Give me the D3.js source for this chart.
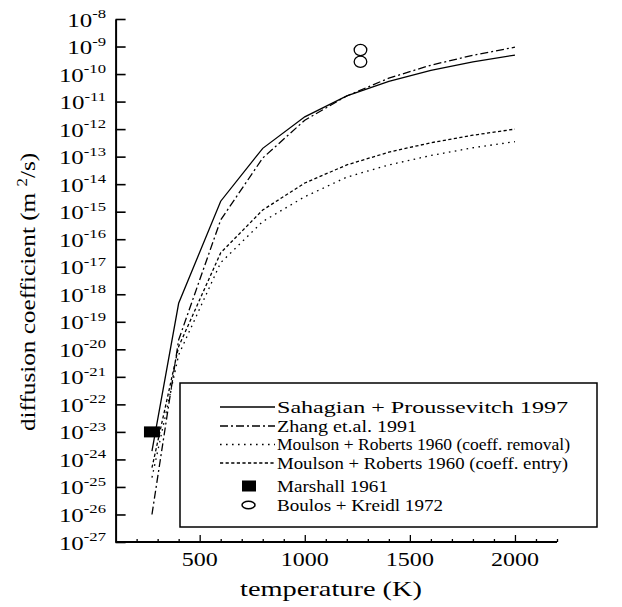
<!DOCTYPE html>
<html><head><meta charset="utf-8">
<script src="https://cdn.jsdelivr.net/npm/d3@7"></script>
<style>
html,body{margin:0;padding:0;background:#fff;}
svg{display:block;}
</style></head>
<body>
<svg id="c" width="622" height="607" font-family="Liberation Serif, Tinos, Times New Roman, DejaVu Serif, serif"></svg>
<script>
// ---- data ----
const temps = [273, 400, 600, 800, 1000, 1200, 1400, 1600, 1800, 2000];
const sahagian = [2.0e-24, 4.7e-19, 2.4e-15, 2.0e-13, 2.8e-12, 1.6e-11, 5.4e-11, 1.35e-10, 2.75e-10, 4.9e-10];
const zhang    = [1.0e-26, 2.2e-20, 5.0e-16, 8.9e-14, 2.1e-12, 1.6e-11, 7.1e-11, 2.1e-10, 4.8e-10, 9.5e-10];
const moulsonRemoval = [2.2e-25, 6.3e-21, 1.4e-17, 4.4e-16, 3.5e-15, 1.8e-14, 5.0e-14, 1.1e-13, 2.1e-13, 3.5e-13];
const moulsonEntry   = [5.0e-25, 1.26e-20, 3.2e-17, 1.15e-15, 1.1e-14, 5.0e-14, 1.45e-13, 3.2e-13, 6.0e-13, 1.0e-12];
const marshallT = [273];
const marshallD = [1.0e-23];
const boulosT = [1265, 1265];
const boulosD = [7.5e-10, 2.8e-10];
const yExponents = d3.range(-8, -28, -1);
const xTickLabels = [500, 1000, 1500, 2000];
const legendLabels = [
  "Sahagian + Proussevitch 1997",
  "Zhang et.al. 1991",
  "Moulson + Roberts 1960 (coeff. removal)",
  "Moulson + Roberts 1960 (coeff. entry)",
  "Marshall 1961",
  "Boulos + Kreidl 1972"
];

// ---- layout ----
const FONT = "'Liberation Serif', Tinos, 'Times New Roman', 'DejaVu Serif', serif";
const svg = d3.select("#c");
const x = d3.scaleLinear().domain([100, 2200]).range([115.6, 557]);
const y = d3.scaleLog().domain([1e-27, 1e-8]).range([542, 19]);

function txt(sel) { return sel.append("text").attr("font-family", FONT).attr("fill", "#000"); }

// x axis (ticks inward)
const xMinor = d3.range(200, 2201, 100);
const gx = svg.append("g").attr("transform", "translate(0,542)")
  .call(d3.axisBottom(x).tickValues(xMinor).tickSizeOuter(0).tickSizeInner(-3).tickFormat(""));
gx.select(".domain").attr("stroke-width", 2).attr("d", `M${x(100)},0H${x(2200)}`);
gx.selectAll(".tick line").attr("stroke-width", 1.3)
  .attr("y2", d => (d % 500 === 0) ? -7 : -3);

// y axis (ticks inward)
const gy = svg.append("g").attr("transform", `translate(${x(100)},0)`)
  .call(d3.axisLeft(y).tickValues(yExponents.map(e => Math.pow(10, e))).tickSizeOuter(0).tickSizeInner(-10).tickFormat(""));
gy.select(".domain").attr("stroke-width", 2);
gy.selectAll(".tick line").attr("stroke-width", 1.6);

// y tick labels 10^n
yExponents.forEach(e => {
  const t = txt(svg)
    .attr("transform", `translate(106,${y(Math.pow(10, e)) + 7.5}) scale(1.28,1)`)
    .attr("text-anchor", "end");
  t.append("tspan").attr("font-size", 19.5).text("10");
  t.append("tspan").attr("font-size", 13).attr("dy", -8.5).text(String(e));
});

// x tick labels
xTickLabels.forEach(v => {
  txt(svg)
    .attr("transform", `translate(${x(v)},566) scale(1.3,1)`)
    .attr("text-anchor", "middle").attr("font-size", 18.5).text(v);
});

// axis titles
txt(svg)
  .attr("x", 331).attr("y", 596)
  .attr("textLength", 182).attr("lengthAdjust", "spacingAndGlyphs")
  .attr("text-anchor", "middle").attr("font-size", 21).text("temperature (K)");

const yl = txt(svg)
  .attr("transform", "translate(35,292) rotate(-90) scale(1.2,1)")
  .attr("text-anchor", "middle").attr("font-size", 21);
yl.append("tspan").text("diffusion coefficient (m ");
yl.append("tspan").attr("font-size", 14).attr("dy", -8).text("2");
yl.append("tspan").attr("dy", 8).text("/s)");

// ---- curves ----
const line = d3.line().x(d => x(d[0])).y(d => y(d[1]));
const series = [
  {vals: sahagian, dash: null},
  {vals: zhang, dash: "8,3,2,3"},
  {vals: moulsonRemoval, dash: "1.6,4.4"},
  {vals: moulsonEntry, dash: "3.2,2.4"}
];
series.forEach(s => {
  svg.append("path")
    .attr("d", line(temps.map((t, i) => [t, s.vals[i]])))
    .attr("fill", "none").attr("stroke", "#000").attr("stroke-width", 1.3)
    .attr("stroke-dasharray", s.dash);
});

// Marshall square
marshallT.forEach((t, i) => {
  svg.append("rect")
    .attr("x", x(t) - 8).attr("y", y(marshallD[i]) - 5.5)
    .attr("width", 16).attr("height", 11).attr("fill", "#000");
});

// Boulos ellipses
boulosT.forEach((t, i) => {
  svg.append("ellipse")
    .attr("cx", x(t)).attr("cy", y(boulosD[i]))
    .attr("rx", 6.3).attr("ry", 5.6)
    .attr("fill", "none").attr("stroke", "#000").attr("stroke-width", 1.3);
});

// ---- legend ----
svg.append("rect").attr("x", 180).attr("y", 383).attr("width", 417).attr("height", 144)
  .attr("fill", "#fff").attr("stroke", "#000").attr("stroke-width", 1.5);
const rowY = [407, 426, 444.5, 463, 486, 505];
const rowW = [291, 140, 293, 291, 111, 166];
legendLabels.forEach((lab, i) => {
  const cy = rowY[i];
  if (i < 4) {
    svg.append("line").attr("x1", 220).attr("x2", 275).attr("y1", cy).attr("y2", cy)
      .attr("stroke", "#000").attr("stroke-width", 1.3)
      .attr("stroke-dasharray", series[i].dash);
  } else if (i === 4) {
    svg.append("rect").attr("x", 242).attr("y", cy - 5.5).attr("width", 14).attr("height", 11).attr("fill", "#000");
  } else {
    svg.append("ellipse").attr("cx", 248.5).attr("cy", cy).attr("rx", 6.5).attr("ry", 3.8)
      .attr("fill", "none").attr("stroke", "#000").attr("stroke-width", 1.5);
  }
  txt(svg)
    .attr("x", 277).attr("y", cy + 5.5)
    .attr("textLength", rowW[i]).attr("lengthAdjust", "spacingAndGlyphs")
    .attr("font-size", 17).text(lab);
});
</script>
</body></html>
